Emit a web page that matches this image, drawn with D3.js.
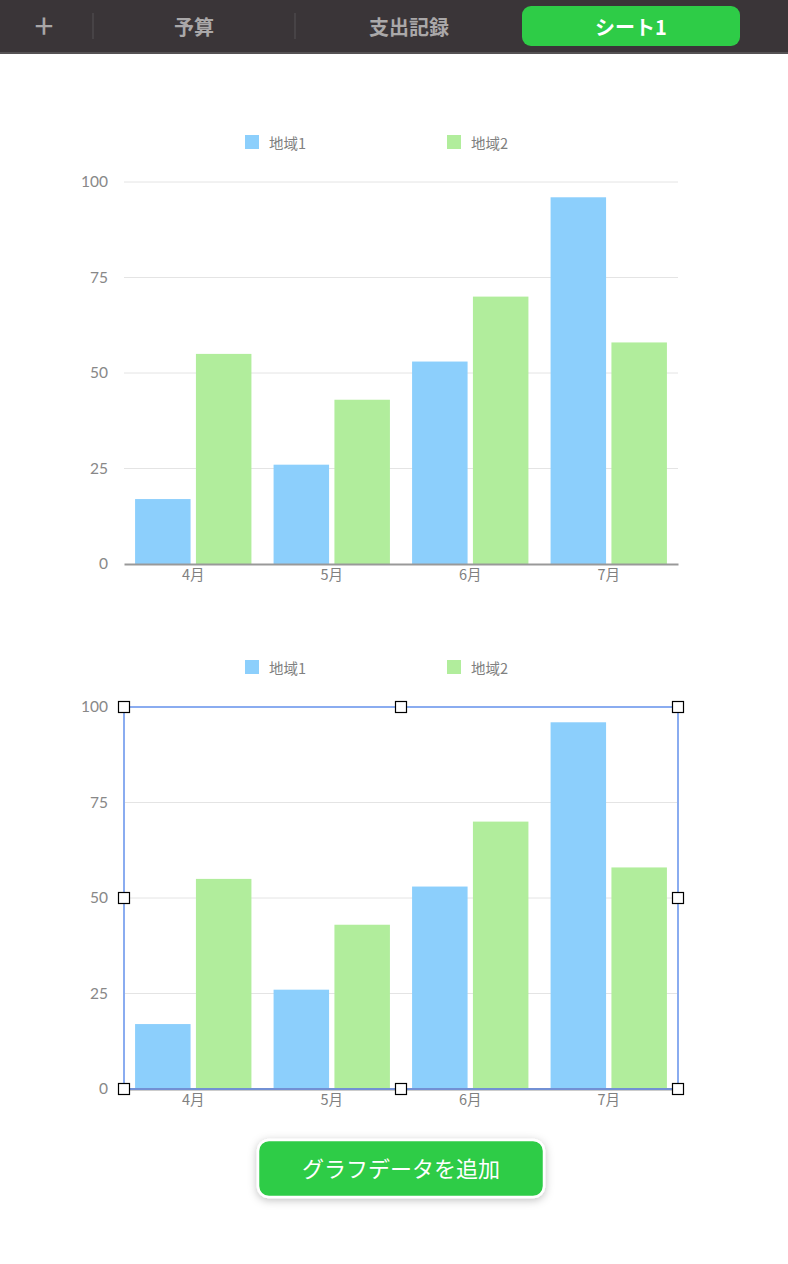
<!DOCTYPE html>
<html>
<head>
<meta charset="utf-8">
<script src="https://cdn.jsdelivr.net/npm/d3@7"></script>
<style>
  body { margin: 0; background: #fff; }
  svg text { font-family: "Noto Sans CJK JP", "Noto Sans", sans-serif; }
</style>
</head>
<body>
<div id="chart"></div>
<script>
var svgWidth = 788;
var svgHeight = 1264;

var months = ["4月", "5月", "6月", "7月"];
var seriesNames = ["地域1", "地域2"];
var region1 = [17, 26, 53, 96];
var region2 = [55, 43, 70, 58];
var yTicks = [0, 25, 50, 75, 100];
var tabs = ["予算", "支出記録"];

var colors = ["#8ccffc", "#b1ed9c"];

var svg = d3.select("#chart")
  .append("svg")
  .attr("width", svgWidth)
  .attr("height", svgHeight);

// header bar
var defs = svg.append("defs");
var shadow = defs.append("filter").attr("id", "shadow")
  .attr("x", "-20%").attr("y", "-30%").attr("width", "140%").attr("height", "170%");
shadow.append("feDropShadow")
  .attr("dx", 0).attr("dy", 2).attr("stdDeviation", 4)
  .attr("flood-color", "#000").attr("flood-opacity", 0.25);

svg.append("rect").attr("x", 0).attr("y", 0).attr("width", svgWidth).attr("height", 54).attr("fill", "#555254");
svg.append("rect").attr("x", 0).attr("y", 0).attr("width", svgWidth).attr("height", 52).attr("fill", "#3a3538");

svg.append("text").attr("x", 44).attr("y", 24).attr("text-anchor", "middle").attr("dominant-baseline", "central")
  .attr("fill", "#a8a6a7").attr("font-size", 34).attr("font-weight", 400).text("+");
[93, 295].forEach(function(x) {
  svg.append("line").attr("x1", x).attr("x2", x).attr("y1", 13).attr("y2", 39)
    .attr("stroke", "#555254").attr("stroke-width", 1);
});
svg.selectAll(".tab").data(tabs).enter().append("text")
  .attr("x", (d, i) => [194, 409][i]).attr("y", 26)
  .attr("text-anchor", "middle").attr("dominant-baseline", "central")
  .attr("fill", "#aaa8a9").attr("font-size", 20).attr("font-weight", 700)
  .text(d => d);
svg.append("rect").attr("x", 522).attr("y", 6).attr("width", 218).attr("height", 40).attr("rx", 9)
  .attr("fill", "#2ecc47");
svg.append("text").attr("x", 631).attr("y", 26).attr("text-anchor", "middle").attr("dominant-baseline", "central")
  .attr("fill", "#fff").attr("font-size", 20).attr("font-weight", 700).text("シート1");

var margin = { left: 124, right: 110 };
var width = svgWidth - margin.left - margin.right;
var height = 382;

var xScale = d3.scaleBand().domain(months).range([0, width]).paddingInner(0.16).paddingOuter(0.08);
var xSub = d3.scaleBand().domain(seriesNames).range([0, xScale.bandwidth()]).paddingInner(0.088);
var yScale = d3.scaleLinear().domain([0, 100]).range([height, 0]);

function drawChart(top, selected) {
  var g = svg.append("g").attr("transform", `translate(${margin.left}, ${top})`);

  // legend
  var legend = g.selectAll(".legend").data(seriesNames).enter().append("g")
    .attr("transform", (d, i) => `translate(${121 + i * 202}, -47)`);
  legend.append("rect").attr("width", 14).attr("height", 14).attr("fill", (d, i) => colors[i]);
  legend.append("text").attr("x", 24).attr("y", 7).attr("dominant-baseline", "central")
    .attr("fill", "#808080").attr("font-size", 14.5).text(d => d);

  // grid
  g.selectAll(".grid").data(yTicks.slice(1)).enter().append("line")
    .attr("x1", 0).attr("x2", width)
    .attr("y1", d => yScale(d)).attr("y2", d => yScale(d))
    .attr("stroke", "#e4e4e4").attr("stroke-width", 1);

  var leftAxis = d3.axisLeft(yScale).tickValues(yTicks).tickSize(0).tickPadding(16);
  var ay = g.append("g").call(leftAxis);
  ay.select(".domain").remove();
  ay.selectAll("text").attr("fill", "#888").attr("font-size", 15.5).style("font-family", "Lato, sans-serif");

  var groups = g.selectAll(".month").data(months).enter().append("g")
    .attr("transform", d => `translate(${xScale(d)}, 0)`);
  groups.selectAll("rect").data((d, i) => [region1[i], region2[i]]).enter().append("rect")
    .attr("x", (d, j) => xSub(seriesNames[j]))
    .attr("width", xSub.bandwidth())
    .attr("y", d => yScale(d))
    .attr("height", d => height - yScale(d))
    .attr("fill", (d, j) => colors[j]);

  var bottomAxis = d3.axisBottom(xScale).tickSize(0).tickPadding(6);
  var ax = g.append("g").attr("transform", `translate(0, ${height})`).call(bottomAxis);
  ax.select(".domain").attr("stroke", "#999").attr("stroke-width", 2);
  ax.selectAll("text").attr("fill", "#808080").attr("font-size", 14.5);

  if (selected) {
    g.append("rect").attr("x", 0).attr("y", 0).attr("width", width).attr("height", height)
      .attr("fill", "none").attr("stroke", "#8aacf0").attr("stroke-width", 2);
    g.append("line").attr("x1", 0).attr("x2", width).attr("y1", height).attr("y2", height)
      .attr("stroke", "#7290d4").attr("stroke-width", 2);
    var hx = [0, width / 2, width];
    var hy = [0, height / 2, height];
    var handles = [];
    hx.forEach(function(x, i) {
      hy.forEach(function(y, j) {
        if (!(i === 1 && j === 1)) handles.push([x, y]);
      });
    });
    g.selectAll(".handle").data(handles).enter().append("rect")
      .attr("x", d => d[0] - 5.5).attr("y", d => d[1] - 5.5)
      .attr("width", 11).attr("height", 11)
      .attr("fill", "#fff").attr("stroke", "#000").attr("stroke-width", 1.2);
  }
}

drawChart(182, false);
drawChart(707, true);

// button
svg.append("rect").attr("x", 258).attr("y", 1140).attr("width", 286).attr("height", 57).attr("rx", 11)
  .attr("fill", "#2ecc47").attr("stroke", "#fff").attr("stroke-width", 2.5)
  .attr("filter", "url(#shadow)");
svg.append("text").attr("x", 401).attr("y", 1167).attr("text-anchor", "middle").attr("dominant-baseline", "central")
  .attr("fill", "#fff").attr("font-size", 22).attr("font-weight", 400).text("グラフデータを追加");
</script>
</body>
</html>
